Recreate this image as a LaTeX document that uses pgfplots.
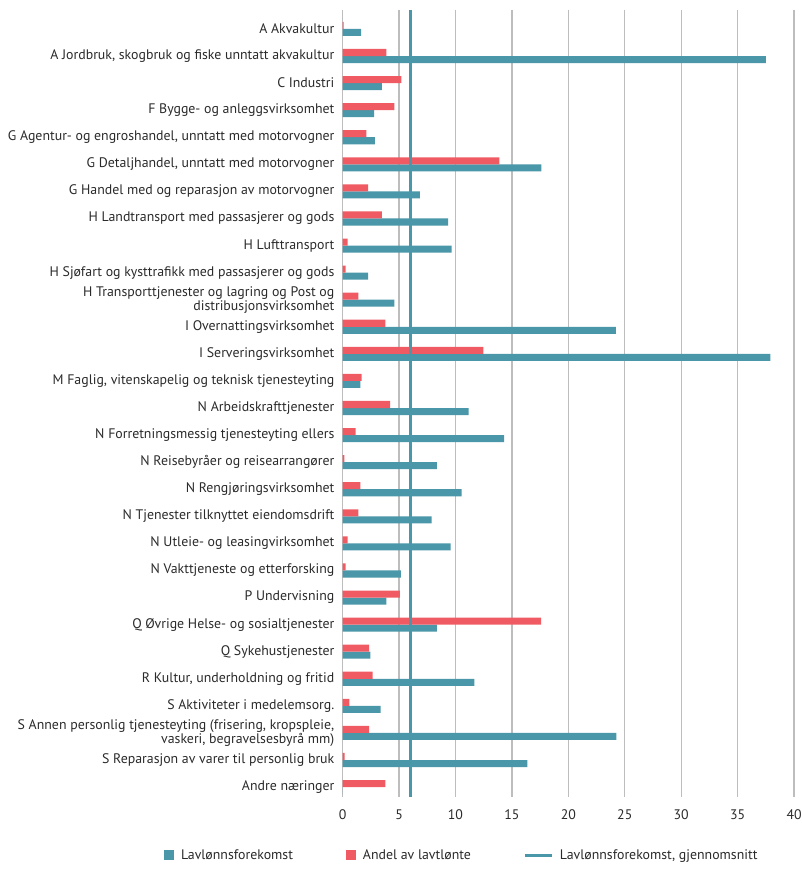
\documentclass[border=0pt]{standalone}
\usepackage{pgfplots}
\pgfplotsset{compat=1.18}
\usepackage{pgfplotstable}
\usepackage{fontspec}
\setmainfont{PT Sans}
\usetikzlibrary{calc}

\definecolor{lavteal}{HTML}{4A97A9}
\definecolor{andelred}{HTML}{F05A62}
\definecolor{gridgray}{HTML}{BDBDBD}
\definecolor{txt}{HTML}{2A2A2A}

% idx = row (top to bottom), lav = Lavlønnsforekomst, andel = Andel av lavtlønte
\pgfplotstableread{
idx lav andel
0  1.65  0.10
1  37.5  3.87
2  3.49  5.20
3  2.80  4.58
4  2.87  2.10
5  17.6  13.9
6  6.85  2.27
7  9.36  3.49
8  9.66  0.44
9  2.27  0.27
10 4.58  1.39
11 24.2  3.78
12 37.9  12.47
13 1.57  1.68
14 11.17 4.20
15 14.3  1.15
16 8.36  0.15
17 10.55 1.57
18 7.89  1.39
19 9.57  0.44
20 5.17  0.27
21 3.87  5.08
22 8.36  17.58
23 2.45  2.36
24 11.67 2.66
25 3.37  0.59
26 24.25 2.36
27 16.37 0.18
28 0     3.78
}\data

\newcommand\lblfont{\fontsize{10.4}{10.6}\selectfont}

\begin{document}
\begin{tikzpicture}
\begin{axis}[
    name=a,
    scale only axis,
    width=339pt, height=591pt,
    y dir=reverse,
    xmin=0, xmax=40,
    ymin=-0.7, ymax=28.37,
    xtick={0,5,...,40},
    ytick={0,...,28},
    yticklabels={
        A Akvakultur,
        {A Jordbruk, skogbruk og fiske unntatt akvakultur},
        C Industri,
        F Bygge- og anleggsvirksomhet,
        {G Agentur- og engroshandel, unntatt med motorvogner},
        {G Detaljhandel, unntatt med motorvogner},
        G Handel med og reparasjon av motorvogner,
        H Landtransport med passasjerer og gods,
        H Lufttransport,
        H Sjøfart og kysttrafikk med passasjerer og gods,
        {H Transporttjenester og lagring og Post og\\distribusjonsvirksomhet},
        I Overnattingsvirksomhet,
        I Serveringsvirksomhet,
        {M Faglig, vitenskapelig og teknisk tjenesteyting},
        N Arbeidskrafttjenester,
        N Forretningsmessig tjenesteyting ellers,
        N Reisebyråer og reisearrangører,
        N Rengjøringsvirksomhet,
        N Tjenester tilknyttet eiendomsdrift,
        N Utleie- og leasingvirksomhet,
        N Vakttjeneste og etterforsking,
        P Undervisning,
        Q Øvrige Helse- og sosialtjenester,
        Q Sykehustjenester,
        {R Kultur, underholdning og fritid},
        S Aktiviteter i medelemsorg.,
        {S Annen personlig tjenesteyting (frisering, kropspleie,\\vaskeri, begravelsesbyrå mm)},
        S Reparasjon av varer til personlig bruk,
        Andre næringer},
    yticklabel style={align=right, inner sep=0pt, xshift=-6pt,
        font=\lblfont, text=txt},
    xticklabel style={inner sep=0pt, yshift=-9pt,
        font=\lblfont, text=txt},
    /pgf/number format/assume math mode=true,
    xmajorgrids,
    grid style={gridgray, line width=0.9pt},
    axis line style={draw=none},
    major tick length=0pt,
    tick style={draw=none},
    bar width=0.26,
    legend columns=3,
    legend cell align=left,
    legend style={draw=none, at={(0.265,-0.074)}, anchor=center,
        font=\lblfont, text=txt,
        /tikz/every odd column/.append style={column sep=3pt},
        /tikz/every even column/.append style={column sep=38pt}},
]
\addplot[xbar, fill=lavteal, draw=none, bar shift=0.13,
    legend image code/.code={\fill[lavteal] (0pt,-3.75pt) rectangle (7.5pt,3.75pt);}]
    table[x=lav, y=idx] {\data};
\addplot[xbar, fill=andelred, draw=none, bar shift=-0.13,
    legend image code/.code={\fill[andelred] (0pt,-3.75pt) rectangle (7.5pt,3.75pt);}]
    table[x=andel, y=idx] {\data};
% average line
\addplot[lavteal, line width=1.8pt,
    legend image code/.code={\draw[lavteal, line width=1.8pt] (0pt,0pt) -- (20pt,0pt);}]
    coordinates {(6.0,-0.7) (6.0,28.37)};
\legend{Lavlønnsforekomst, Andel av lavtlønte, {Lavlønnsforekomst, gjennomsnitt}}
\end{axis}
\path ($(a.south west)+(-257.25pt,-57pt)$) rectangle ($(a.north east)+(3.75pt,7.5pt)$);
\end{tikzpicture}
\end{document}
